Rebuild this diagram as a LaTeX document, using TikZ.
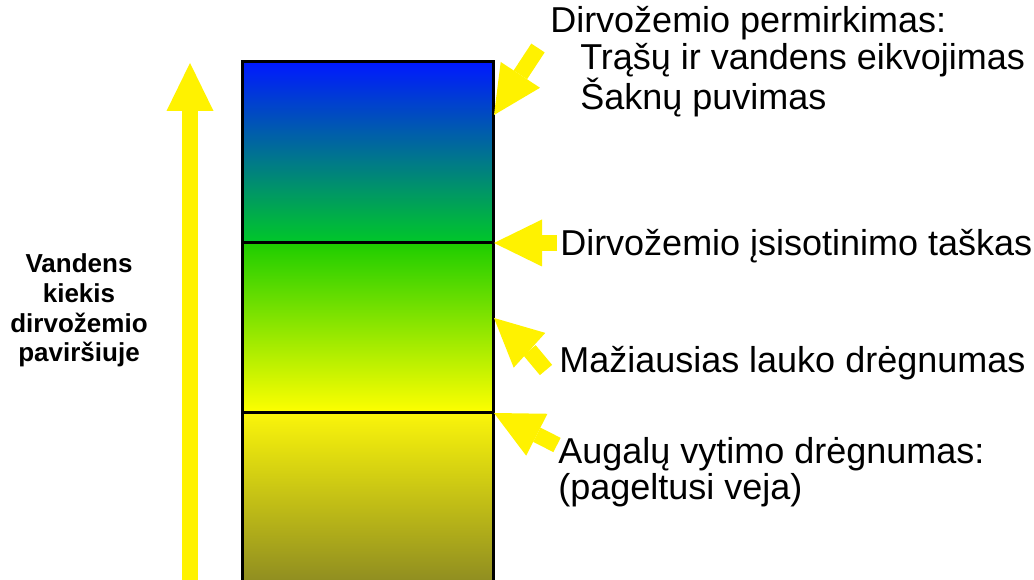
\documentclass[tikz,border=0pt]{standalone}
\usepackage{fontspec}
\setmainfont{Liberation Sans}
\usetikzlibrary{arrows.meta}
\pgfdeclarelayer{edgelayer}
\pgfdeclarelayer{nodelayer}
\pgfsetlayers{edgelayer,nodelayer,main}
\definecolor{wetblue}{RGB}{0,25,255}
\definecolor{wetteal}{RGB}{0,155,175}
\definecolor{fcgreen}{RGB}{0,200,40}
\definecolor{midgreen}{RGB}{30,205,0}
\definecolor{limegreen}{RGB}{170,228,0}
\definecolor{dryyellow}{RGB}{255,255,0}
\definecolor{paleolive}{RGB}{250,245,10}
\definecolor{midolive}{RGB}{215,210,25}
\definecolor{darkolive}{RGB}{132,130,35}
\tikzset{font=\fontsize{25.6}{26.3}\selectfont}
\tikzstyle{none}=[inner sep=0pt]
\tikzstyle{lbl}=[inner sep=0pt, anchor=base west, align=left]
\tikzstyle{sidelbl}=[inner sep=0pt, anchor=base, align=center, font=\fontsize{18.5}{21.3}\selectfont\bfseries]
\tikzstyle{zone}=[draw=black, line width=0.075cm]
\tikzstyle{yellowarrow}=[draw=yellow, line width=0.4cm, -{Triangle[length=1.2cm, width=1.175cm, line width=0pt]}]

\begin{document}
\begin{tikzpicture}
	\useasboundingbox (0,0) rectangle (25.85,14.5);
	\begin{pgfonlayer}{nodelayer}
		\node [style=none] (0) at (6.05, 12.95) {};
		\node [style=none] (1) at (12.325, 8.425) {};
		\node [style=none] (2) at (6.05, 8.425) {};
		\node [style=none] (3) at (12.325, 4.175) {};
		\node [style=none] (4) at (6.05, 4.175) {};
		\node [style=none] (5) at (12.325, -0.5) {};
		\node [style=none] (6) at (12.35, 11.625) {};
		\node [style=none] (7) at (13.45, 13.3) {};
		\node [style=none] (8) at (12.35, 8.425) {};
		\node [style=none] (9) at (13.925, 8.425) {};
		\node [style=none] (10) at (12.35, 6.55) {};
		\node [style=none] (11) at (13.65, 5.25) {};
		\node [style=none] (12) at (12.35, 4.175) {};
		\node [style=none] (13) at (13.925, 3.375) {};
		\node [style=none] (14) at (4.75, -0.5) {};
		\node [style=none] (15) at (4.75, 12.925) {};
		\node [style=lbl] (16) at (13.75, 11.75) {Dirvožemio permirkimas:\\\hspace*{0.75cm}Trąšų ir vandens eikvojimas\\\hspace*{0.75cm}Šaknų puvimas};
		\node [style=lbl] (17) at (14, 8.1) {Dirvožemio įsisotinimo taškas};
		\node [style=lbl] (18) at (13.975, 5.175) {Mažiausias lauko drėgnumas};
		\node [style=lbl] (19) at (13.95, 2.0) {Augalų vytimo drėgnumas:\\(pageltusi veja)};
		\node [style=sidelbl] (20) at (1.975, 5.45) {Vandens\\kiekis\\dirvožemio\\paviršiuje};
	\end{pgfonlayer}
	\begin{pgfonlayer}{edgelayer}
		\draw [style=zone, top color=wetblue, middle color=wetteal, bottom color=fcgreen] (0.center) rectangle (1.center);
		\draw [style=zone, top color=midgreen, middle color=limegreen, bottom color=dryyellow] (2.center) rectangle (3.center);
		\draw [style=zone, top color=paleolive, middle color=midolive, bottom color=darkolive] (4.center) rectangle (5.center);
		\draw [style=yellowarrow] (7.center) to (6.center);
		\draw [style=yellowarrow] (9.center) to (8.center);
		\draw [style=yellowarrow] (11.center) to (10.center);
		\draw [style=yellowarrow] (13.center) to (12.center);
		\draw [style=yellowarrow] (14.center) to (15.center);
	\end{pgfonlayer}
\end{tikzpicture}
\end{document}
